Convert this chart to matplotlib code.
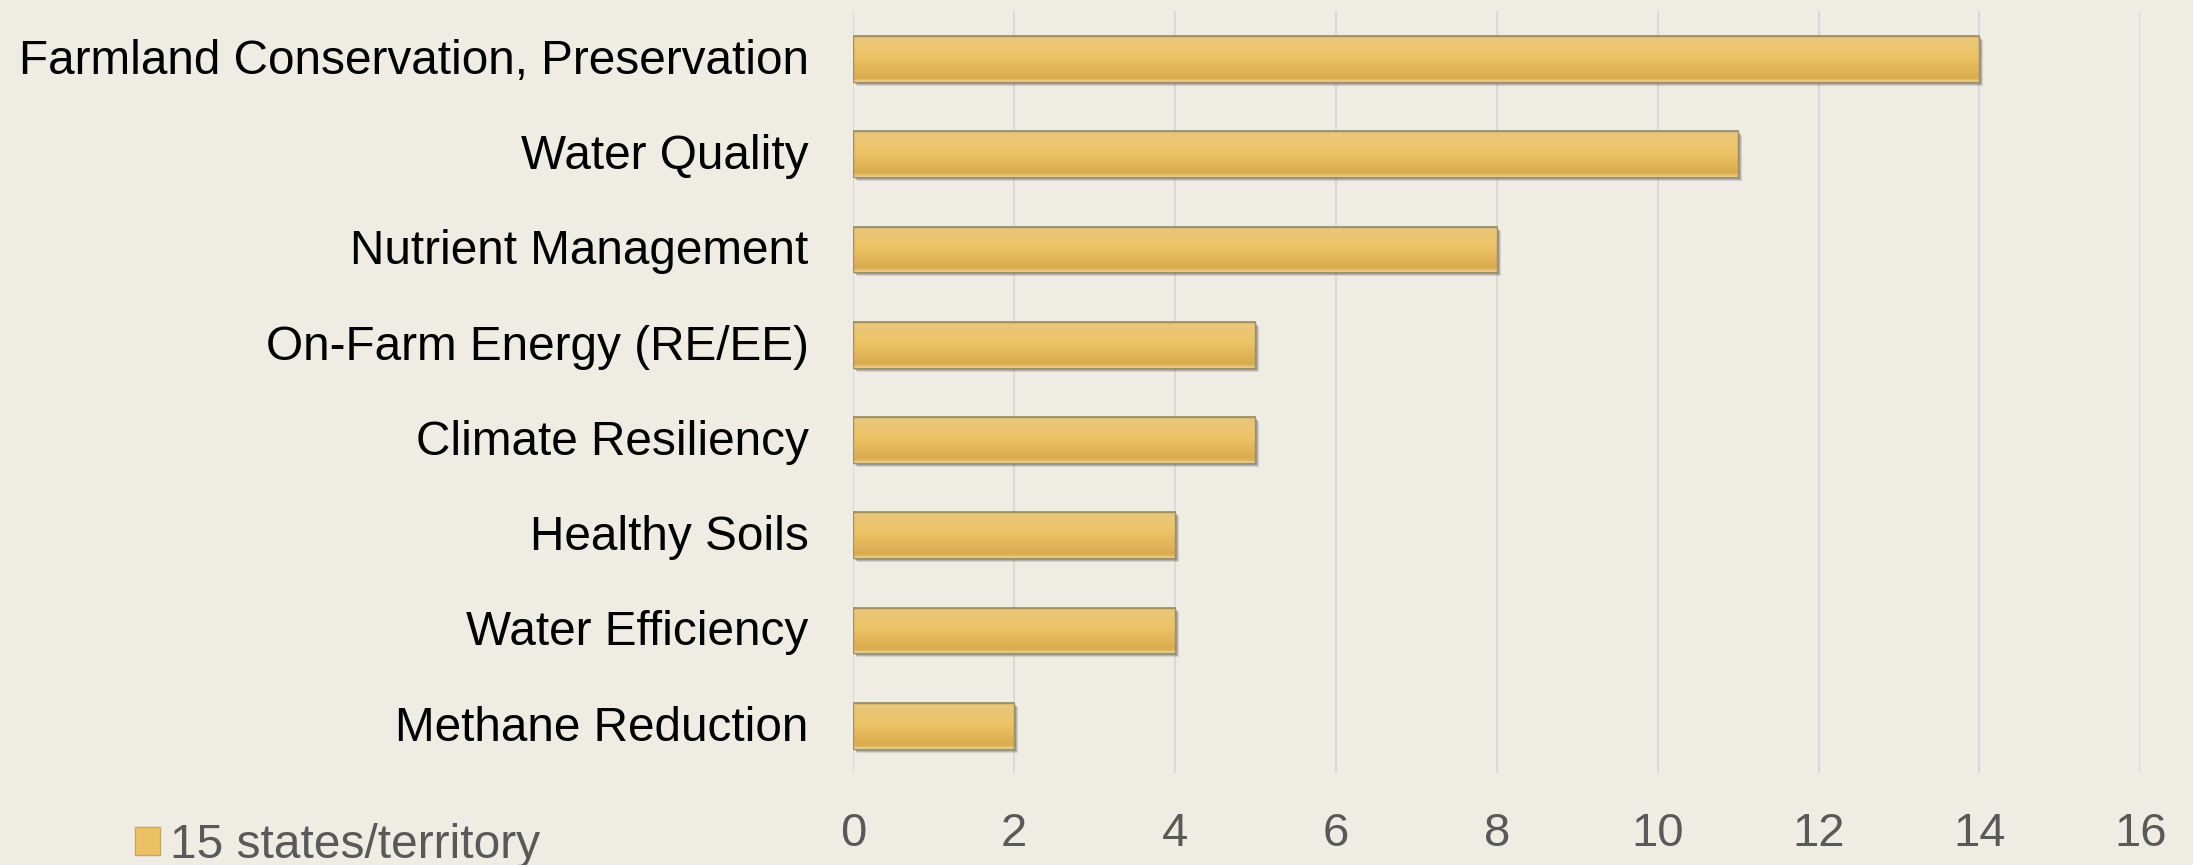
import numpy as np
import matplotlib
matplotlib.use("Agg")
import matplotlib.pyplot as plt
from matplotlib.transforms import ScaledTranslation
from matplotlib.colors import LinearSegmentedColormap
from matplotlib.patches import Patch

plt.rcParams['font.family'] = ['Liberation Sans', 'DejaVu Sans']

categories = ["Farmland Conservation, Preservation", "Water Quality",
              "Nutrient Management", "On-Farm Energy (RE/EE)",
              "Climate Resiliency", "Healthy Soils", "Water Efficiency",
              "Methane Reduction"]
counts = [14, 11, 8, 5, 5, 4, 4, 2]
series_name = "15 states/territory"
xticks = [0, 2, 4, 6, 8, 10, 12, 14, 16]

bg = "#EFECE4"
gold = "#EBC163"

fig = plt.figure(figsize=(21.93, 8.65), dpi=100, facecolor=bg)
ax = fig.add_axes([0.389, 0.106, 0.587, 0.881])
ax.set_facecolor(bg)

y = np.arange(len(categories))
h = 0.48

# soft shadow under each bar
for dx, dy, a in [(4, -4, 0.18), (3, -3, 0.25), (2, -2, 0.3)]:
    sh = ScaledTranslation(dx / 100, dy / 100, fig.dpi_scale_trans)
    ax.barh(y, counts, height=h, color="#5a5a5a", alpha=a, linewidth=0,
            transform=ax.transData + sh, zorder=2)

bars = ax.barh(y, counts, height=h, color=gold, edgecolor="#9a8a60",
               linewidth=1.2, zorder=3)

# vertical gradient inside bars (light top -> darker bottom, thin highlight)
cmap = LinearSegmentedColormap.from_list(
    "g", [(0.0, "#E9C77E"), (0.45, "#ECC365"), (0.9, "#D9AB4F"),
          (0.95, "#E0B65C"), (1.0, "#F5E0A8")])
grad = np.linspace(0, 1, 200).reshape(-1, 1)
for r in bars:
    x0, y0 = r.get_x(), r.get_y()
    im = ax.imshow(grad, cmap=cmap, aspect="auto", origin="upper",
                   extent=(x0, x0 + r.get_width(), y0 + r.get_height(), y0),
                   zorder=3.5)
    im.set_clip_path(r)
for r in bars:
    ax.add_patch(plt.Rectangle((r.get_x(), r.get_y()), r.get_width(), r.get_height(),
                               fill=False, edgecolor="#a09060", linewidth=1.0, zorder=4))

ax.set_xlim(0, 16)
ax.set_ylim(len(categories) - 0.5, -0.5)
ax.set_xticks(xticks)
ax.set_yticks(y)
ax.set_yticklabels(categories, fontsize=34.4, color="black")
ax.tick_params(axis="x", labelsize=34, colors="#595959", length=0, pad=28)
ax.tick_params(axis="y", length=0, pad=32)
up = ScaledTranslation(0, 2.5 / 100, fig.dpi_scale_trans)
for lab in ax.get_yticklabels():
    lab.set_transform(lab.get_transform() + up)
ax.xaxis.grid(True, color="#D9D9D9", linewidth=1.5, zorder=0)
ax.set_axisbelow(True)
for s in ax.spines.values():
    s.set_visible(False)

fig.legend(handles=[Patch(facecolor=gold, edgecolor="#c8a860")], labels=[series_name],
           loc="center left", bbox_to_anchor=(0.0615, 0.023), frameon=False,
           fontsize=34.5, labelcolor="#595959", handlelength=0.53, handleheight=0.53,
           handletextpad=0.2, borderpad=0, borderaxespad=0)

fig.savefig("out.png", dpi=100, facecolor=bg)
